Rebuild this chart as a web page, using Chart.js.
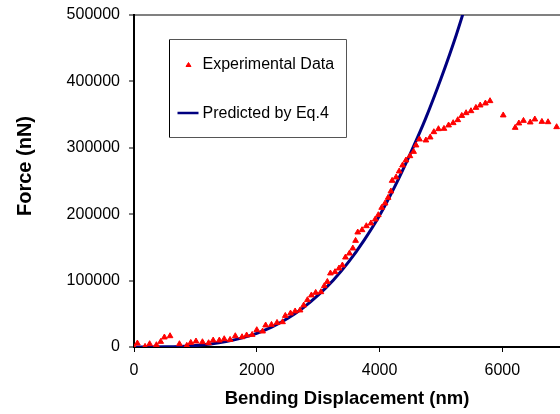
<!DOCTYPE html>
<html>
<head>
<meta charset="utf-8">
<script src="https://cdn.jsdelivr.net/npm/chart.js@4/dist/chart.umd.min.js"></script>
<style>
  html, body { margin: 0; padding: 0; background: #fff; overflow: hidden; }
  #wrap { width: 560px; height: 414px; position: relative; }
</style>
</head>
<body>
<div id="wrap"><canvas id="c" width="560" height="414"></canvas></div>
<script>
// Experimental data (bending displacement in nm, force in nN)
const expX = [0, 55, 180, 255, 365, 435, 495, 587, 740, 860, 925, 1010, 1115, 1215, 1290, 1390, 1470, 1565, 1650,
  1760, 1835, 1925, 2000, 2095, 2145, 2240, 2330, 2420, 2465, 2550, 2625, 2705, 2765, 2825, 2890, 2960, 3045,
  3100, 3150, 3200, 3275, 3340, 3395, 3445, 3510, 3565, 3610, 3645, 3715, 3785, 3860, 3930, 3980, 4035, 4090,
  4140, 4185, 4205, 4270, 4320, 4375, 4430, 4495, 4555, 4595, 4650, 4755, 4825, 4885, 4960, 5050, 5125, 5200,
  5275, 5340, 5410, 5490, 5570, 5640, 5725, 5800, 6015, 6210, 6270, 6345, 6455, 6530, 6645, 6745, 6885];
const expY = [0, 5500, 500, 4500, 3000, 8000, 14600, 16500, 4500, 2000, 6500, 8600, 7500, 6000, 10000, 10000, 12000, 11000, 16500,
  15000, 17600, 18500, 25600, 23600, 32700, 33600, 36600, 37600, 47100, 50700, 53800, 55300, 62800, 70800, 77900, 81800, 82800,
  91900, 98300, 111000, 113000, 118500, 123000, 135000, 141000, 148600, 160100, 172700, 176200, 182200, 186300, 192300, 198800, 209800, 216400,
  224900, 234500, 250500, 255600, 264600, 273600, 281200, 287600, 294100, 303800, 312800, 311300, 315800, 323800, 328300, 328800, 333900, 337400,
  341900, 348300, 352400, 355400, 360400, 364000, 367000, 370500, 349000, 330300, 336900, 340800, 338400, 342900, 339300, 338800, 331300];

// Predicted curve (Eq.4)
const predX = [0, 250, 500, 750, 1000, 1250, 1500, 1750, 2000, 2250, 2500, 2750, 3000, 3250, 3500, 3750, 4000, 4250, 4500, 4750, 5000, 5250, 5500];
const predY = [0, 25, 230, 860, 2170, 4470, 8080, 13300, 20500, 30200, 42800, 58600, 78000, 101000, 128500, 161000, 198000, 242000, 291000, 344000, 404000, 470000, 544000];

const xTicks = [0, 2000, 4000, 6000];
const yTicks = [0, 100000, 200000, 300000, 400000, 500000];

const seriesNames = ['Experimental Data', 'Predicted by Eq.4'];
const xTitle = 'Bending Displacement (nm)';
const yTitle = 'Force (nN)';

const expPoints = expX.map((x, i) => ({ x: x, y: expY[i] }));
const predPoints = predX.map((x, i) => ({ x: x, y: predY[i] }));

const FONT = 'Arial, "Liberation Sans", sans-serif';

const boxLegend = {
  id: 'boxLegend',
  afterDraw(chart) {
    const ctx = chart.ctx;
    const x0 = 169.5, y0 = 39.5, x1 = 346.5, y1 = 137.5;
    ctx.save();
    ctx.lineWidth = 1;
    ctx.strokeStyle = '#000';
    ctx.beginPath();
    ctx.moveTo(x0, y1); ctx.lineTo(x0, y0); ctx.stroke();
    ctx.strokeStyle = '#555';
    ctx.beginPath();
    ctx.moveTo(x0, y0); ctx.lineTo(x1, y0); ctx.lineTo(x1, y1); ctx.lineTo(x0, y1);
    ctx.stroke();
    // marker
    const ds0 = chart.data.datasets[0];
    ctx.fillStyle = ds0.backgroundColor;
    ctx.strokeStyle = ds0.borderColor;
    ctx.beginPath();
    ctx.moveTo(188.5, 62.5); ctx.lineTo(191, 66.5); ctx.lineTo(186, 66.5); ctx.closePath();
    ctx.fill(); ctx.stroke();
    // line
    const ds1 = chart.data.datasets[1];
    ctx.strokeStyle = ds1.borderColor;
    ctx.lineWidth = 2.5;
    ctx.beginPath();
    ctx.moveTo(177.5, 113); ctx.lineTo(198.5, 113); ctx.stroke();
    // texts
    ctx.fillStyle = '#000';
    ctx.font = '16px ' + FONT;
    ctx.textBaseline = 'middle';
    ctx.textAlign = 'left';
    ctx.fillText(seriesNames[0], 202.5, 65);
    ctx.fillText(seriesNames[1], 202.5, 114);
    // y axis title (placed as in the reference, slightly above the axis centre)
    ctx.translate(25, 166);
    ctx.rotate(-Math.PI / 2);
    ctx.font = 'bold 20px ' + FONT;
    ctx.textAlign = 'center';
    ctx.fillText(yTitle, 0, 0);
    ctx.restore();
  }
};

function zeroPad(s) { s.paddingTop = 0; s.paddingBottom = 0; s.paddingLeft = 0; s.paddingRight = 0; }

new Chart(document.getElementById('c'), {
  type: 'scatter',
  data: {
    datasets: [
      {
        label: seriesNames[0],
        data: expPoints,
        showLine: false,
        pointStyle: 'triangle',
        pointRadius: 3.3,
        pointBorderWidth: 1,
        backgroundColor: '#ff0000',
        borderColor: '#ff0000',
        order: 1
      },
      {
        label: seriesNames[1],
        data: predPoints,
        showLine: true,
        pointRadius: 0,
        borderColor: '#000080',
        backgroundColor: '#000080',
        borderWidth: 3,
        cubicInterpolationMode: 'monotone',
        order: 2
      }
    ]
  },
  plugins: [boxLegend],
  options: {
    responsive: false,
    animation: false,
    events: [],
    layout: { autoPadding: false, padding: { top: 15, right: 0, left: 0, bottom: 0 } },
    plugins: { legend: { display: false }, tooltip: { enabled: false } },
    scales: {
      x: {
        type: 'linear',
        min: 0,
        max: 6940,
        afterFit(s) { s.height = 67; zeroPad(s); },
        afterBuildTicks(s) { s.ticks = xTicks.map(v => ({ value: v })); },
        ticks: { color: '#000', font: { family: FONT, size: 16 }, padding: 9, includeBounds: false,
                 callback: v => String(v) },
        grid: { drawOnChartArea: false, drawTicks: true, tickLength: 5, tickColor: '#000', tickWidth: 1 },
        border: { display: true, color: '#000', width: 2 },
        title: { display: true, text: xTitle, color: '#000',
                 font: { family: FONT, size: 18.5, weight: 'bold' }, padding: { top: 0, bottom: 4 } }
      },
      y: {
        type: 'linear',
        min: 0,
        max: 500000,
        afterFit(s) { s.width = 134; zeroPad(s); },
        afterBuildTicks(s) { s.ticks = yTicks.map(v => ({ value: v })); },
        ticks: { color: '#000', font: { family: FONT, size: 16 }, padding: 9,
                 callback: v => String(v) },
        grid: {
          drawOnChartArea: true, drawTicks: true, tickLength: 5, tickColor: '#000', tickWidth: 1,
          color: ctx => (ctx.tick && ctx.tick.value === 500000 ? '#808080' : 'rgba(0,0,0,0)'),
          lineWidth: ctx => (ctx.tick && ctx.tick.value === 500000 ? 2 : 0)
        },
        border: { display: true, color: '#000', width: 2 },
        title: { display: false }
      }
    }
  }
});
</script>
</body>
</html>
